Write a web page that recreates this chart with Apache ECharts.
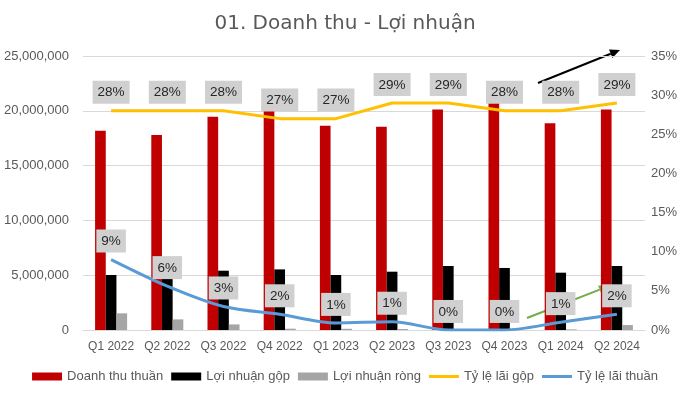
<!DOCTYPE html>
<html>
<head>
<meta charset="utf-8">
<script src="https://cdn.jsdelivr.net/npm/echarts@6/dist/echarts.min.js"></script>
<style>
  html, body { margin: 0; padding: 0; background: #fff; }
  #chart { width: 690px; height: 397px; }
</style>
</head>
<body>
<div id="chart"></div>
<script>
const quarters = ['Q1 2022', 'Q2 2022', 'Q3 2022', 'Q4 2022', 'Q1 2023', 'Q2 2023', 'Q3 2023', 'Q4 2023', 'Q1 2024', 'Q2 2024'];
const revenue = [18180000, 17790000, 19460000, 20070000, 18640000, 18550000, 20130000, 20830000, 18860000, 20130000];
const grossProfit = [5020000, 4960000, 5410000, 5530000, 5020000, 5320000, 5840000, 5660000, 5230000, 5840000];
const netProfit = [1520000, 970000, 510000, 120000, 110000, 90000, 30000, 20000, 60000, 450000];
const grossMargin = [28, 28, 28, 27, 27, 29, 29, 28, 28, 29];
const netMargin = [9, 5.6, 3, 2, 0.9, 1.05, 0, 0, 1, 2];

const chart = echarts.init(document.getElementById('chart'));
const font = 'Liberation Sans';
const textColor = '#595959';
const lineIcon = 'path://M0,0H30V3H0Z';

const boxLabel = {
  show: true,
  position: 'top',
  distance: 7,
  formatter: (p) => Math.round(p.value) + '%',
  backgroundColor: '#d0d0d0',
  color: '#262626',
  opacity: 1,
  fontFamily: font,
  fontSize: 13.5,
  padding: [5, 5, 4, 5]
};

function arrow(x1, y1, x2, y2, color, width) {
  const a = Math.atan2(y2 - y1, x2 - x1);
  const len = 10, half = 4.5;
  const bx = x2 - len * Math.cos(a), by = y2 - len * Math.sin(a);
  const nx = -Math.sin(a) * half, ny = Math.cos(a) * half;
  return {
    type: 'group',
    z: 100,
    children: [
      { type: 'line', shape: { x1, y1, x2: bx, y2: by }, style: { stroke: color, lineWidth: width } },
      { type: 'polygon', shape: { points: [[x2, y2], [bx + nx, by + ny], [bx - nx, by - ny]] }, style: { fill: color } }
    ]
  };
}

const option = {
  animation: false,
  title: {
    text: '01. Doanh thu - Lợi nhuận',
    left: 'center',
    top: 9,
    textStyle: { fontFamily: 'DejaVu Sans', fontSize: 20, fontWeight: 'normal', color: textColor }
  },
  grid: { left: 83, right: 45, top: 56, bottom: 67 },
  legend: {
    bottom: 9,
    left: 'center',
    itemWidth: 30,
    itemHeight: 8,
    itemGap: 8,
    textStyle: { fontFamily: font, fontSize: 13, color: textColor },
    data: [
      { name: 'Doanh thu thuần', icon: 'rect' },
      { name: 'Lợi nhuận gộp', icon: 'rect' },
      { name: 'Lợi nhuận ròng', icon: 'rect' },
      { name: 'Tỷ lệ lãi gộp', icon: lineIcon },
      { name: 'Tỷ lệ lãi thuần', icon: lineIcon }
    ]
  },
  xAxis: {
    type: 'category',
    data: quarters,
    axisTick: { show: false },
    axisLine: { lineStyle: { color: '#d9d9d9' } },
    axisLabel: { fontFamily: font, fontSize: 12, color: textColor, margin: 11, interval: 0 }
  },
  yAxis: [
    {
      type: 'value',
      min: 0,
      max: 25000000,
      interval: 5000000,
      axisLabel: {
        fontFamily: font, fontSize: 13, color: textColor, margin: 14,
        formatter: (v) => v.toLocaleString('en-US')
      },
      splitLine: { lineStyle: { color: '#d9d9d9' } }
    },
    {
      type: 'value',
      min: 0,
      max: 35,
      interval: 5,
      axisLabel: { fontFamily: font, fontSize: 13, color: textColor, margin: 6, formatter: '{value}%' },
      splitLine: { show: false }
    }
  ],
  series: [
    { name: 'Doanh thu thuần', type: 'bar', data: revenue, barGap: '0%', barCategoryGap: '43%', itemStyle: { color: '#c00000' } },
    { name: 'Lợi nhuận gộp', type: 'bar', data: grossProfit, itemStyle: { color: '#000000' } },
    { name: 'Lợi nhuận ròng', type: 'bar', data: netProfit, itemStyle: { color: '#a5a5a5' } },
    {
      name: 'Tỷ lệ lãi gộp', type: 'line', yAxisIndex: 1, data: grossMargin, z: 10,
      symbol: 'circle', symbolSize: 0.1, showSymbol: true,
      lineStyle: { color: '#ffc000', width: 3 }, itemStyle: { color: '#ffc000' },
      label: boxLabel, labelLayout: { hideOverlap: false }
    },
    {
      name: 'Tỷ lệ lãi thuần', type: 'line', yAxisIndex: 1, data: netMargin, smooth: 0.3, z: 10,
      symbol: 'circle', symbolSize: 0.1, showSymbol: true,
      lineStyle: { color: '#5b9bd5', width: 3 }, itemStyle: { color: '#5b9bd5' },
      label: boxLabel, labelLayout: { hideOverlap: false }
    }
  ],
  graphic: [
    arrow(538, 83, 620, 50, '#000000', 2),
    arrow(527, 318, 609, 286, '#70ad47', 2)
  ]
};

chart.setOption(option);
window.onresize = () => {
  chart.resize();
};
</script>
</body>
</html>
